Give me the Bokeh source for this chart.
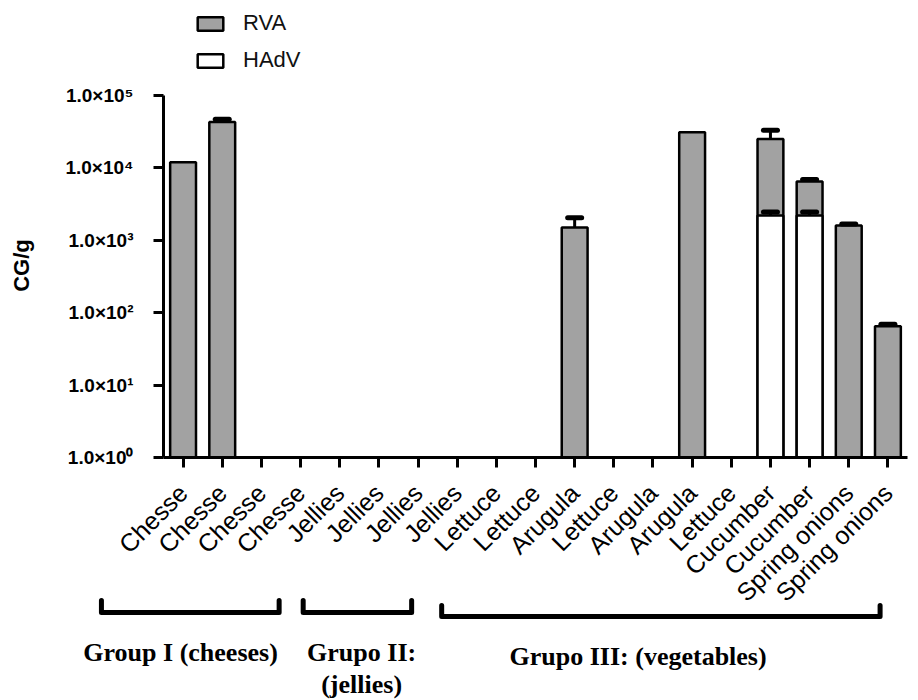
import math
import numpy as np
from bokeh.plotting import figure
from bokeh.layouts import column
from bokeh.models import (ColumnDataSource, FixedTicker, Range1d, LinearScale,
                          Legend, LegendItem, Whisker, TeeHead)
from bokeh.core.properties import value
from bokeh.embed import file_html
from bokeh.resources import INLINE

# ---------------- data ----------------
categories = ["Chesse", "Chesse", "Chesse", "Chesse",
              "Jellies", "Jellies", "Jellies", "Jellies",
              "Lettuce", "Lettuce", "Arugula", "Lettuce", "Arugula",
              "Arugula", "Lettuce", "Cucumber", "Cucumber",
              "Spring onions", "Spring onions"]
rva = [12000, 43000, None, None, None, None, None, None, None, None,
       1500, None, None, 31000, None, 25000, 6500, 1600, 65]
rva_upper = [None, 47000, None, None, None, None, None, None, None, None,
             2050, None, None, None, None, 33000, 6900, 1680, 69]
hadv = [None, None, None, None, None, None, None, None, None, None,
        None, None, None, None, None, 2200, 2200, None, None]
hadv_upper = [None, None, None, None, None, None, None, None, None, None,
              None, None, None, None, None, 2450, 2450, None, None]
series_names = ["RVA", "HAdV"]
y_ticks = [1, 10, 100, 1000, 10000, 100000]
y_tick_labels = ["1.0×10⁰", "1.0×10¹", "1.0×10²", "1.0×10³", "1.0×10⁴", "1.0×10⁵"]
y_title = "CG/g"
group_labels = ["Group I (cheeses)", "Grupo II:\n(jellies)", "Grupo III: (vegetables)"]

# ---------------- layout (decoration positions: page pixels / category units) ----
TOTAL_H, LEFT, FRAME_W, RIGHT = 700, 163, 744, 8
LEGEND_H = 73                      # height of the legend strip on top
AXIS_TOP_PX, AXIS_BOTTOM_PX = 95, 457
decade_px = (AXIS_BOTTOM_PX - AXIS_TOP_PX) / 5.0
y_end = 10 ** (5 + (AXIS_TOP_PX - LEGEND_H) / decade_px)
group_span = [(-2.085, 2.453), (3.067, 5.837), (6.604, 17.80)]
group_text_x = [-0.064, 4.56, 11.62]
bracket_top = [600, 600, 605]
bracket_line = [612, 612, 616]
group_text_y = [637, 637, 641]

GRAY = "#a2a2a2"
SANS = "Liberation Sans"
SERIF = "Liberation Serif"
BAR_STYLE = dict(line_color="black", line_width=2.5)


def nan(v):
    return np.nan if v is None else float(v)


x = list(range(len(categories)))
src = ColumnDataSource(dict(x=x, rva=[nan(v) for v in rva], hadv=[nan(v) for v in hadv]))

# ---------------- legend strip ----------------
pl = figure(frame_width=FRAME_W, frame_height=LEGEND_H,
            min_border_left=LEFT, min_border_right=RIGHT,
            min_border_top=0, min_border_bottom=0,
            x_range=Range1d(0, 1), y_range=Range1d(0, 1),
            x_axis_type=None, y_axis_type=None,
            output_backend="svg", toolbar_location=None)
pl.xgrid.visible = False
pl.ygrid.visible = False
pl.outline_line_color = None
# legend-only renderers (their single value is empty, so nothing is drawn in the strip)
key_src = ColumnDataSource(dict(x=[0.5], top=[np.nan]))
lr1 = pl.vbar(x="x", top="top", width=0.5, source=key_src, fill_color=GRAY, **BAR_STYLE)
lr2 = pl.vbar(x="x", top="top", width=0.5, source=key_src, fill_color="white", **BAR_STYLE)
legend = Legend(items=[LegendItem(label=series_names[0], renderers=[lr1]),
                       LegendItem(label=series_names[1], renderers=[lr2])],
                location=(31, 0), padding=0, margin=0, spacing=11,
                glyph_width=32, glyph_height=17, label_standoff=17,
                label_text_font=SANS, label_text_font_size="22px",
                label_text_color="#111111",
                border_line_color=None, background_fill_alpha=0)
pl.add_layout(legend)

# ---------------- main chart ----------------
p = figure(frame_width=FRAME_W, frame_height=AXIS_BOTTOM_PX - LEGEND_H,
           min_border_left=LEFT, min_border_right=RIGHT,
           min_border_top=0, min_border_bottom=TOTAL_H - AXIS_BOTTOM_PX,
           x_range=Range1d(-0.5, 18.5), y_range=Range1d(1, y_end),
           y_axis_type="log", output_backend="svg", toolbar_location=None)
p.xgrid.visible = False
p.ygrid.visible = False
p.outline_line_color = None

r1 = p.vbar(x="x", top="rva", bottom=1, width=0.66, source=src, fill_color=GRAY, **BAR_STYLE)
r2 = p.vbar(x="x", top="hadv", bottom=1, width=0.66, source=src, fill_color="white", **BAR_STYLE)


def add_err(vals, ups):
    idx = [i for i in x if ups[i] is not None and vals[i] is not None]
    es = ColumnDataSource(dict(x=idx, lo=[vals[i] for i in idx], hi=[ups[i] for i in idx]))
    w = Whisker(base="x", lower="lo", upper="hi", source=es, dimension="height",
                line_color="black", line_width=3,
                upper_head=TeeHead(size=14, line_width=5, line_color="black", line_cap="round"),
                lower_head=None, level="annotation")
    p.add_layout(w)


add_err(rva, rva_upper)
add_err(hadv, hadv_upper)

ya = p.yaxis[0]
ya.bounds = (y_ticks[0], y_ticks[-1])
ya.ticker = FixedTicker(ticks=y_ticks, minor_ticks=[])
ya.major_label_overrides = dict(zip(y_ticks, y_tick_labels))
ya.axis_line_width = 3
ya.major_tick_line_width = 3
ya.major_tick_out = 10
ya.major_tick_in = 0
ya.minor_tick_line_color = None
ya.major_label_standoff = 20
ya.major_label_text_font = SANS
ya.major_label_text_font_style = "bold"
ya.major_label_text_font_size = "19px"
ya.major_label_text_color = "black"
ya.axis_label = y_title
ya.axis_label_text_font = SANS
ya.axis_label_text_font_style = "bold"
ya.axis_label_text_font_size = "22px"
ya.axis_label_text_color = "black"
ya.axis_label_standoff = 28

xa = p.xaxis[0]
xa.ticker = FixedTicker(ticks=x, minor_ticks=[])
xa.major_label_overrides = {i: c for i, c in zip(x, categories)}
xa.major_label_orientation = math.pi / 4
xa.axis_line_width = 3
xa.major_tick_line_width = 3
xa.major_tick_out = 10
xa.major_tick_in = 0
xa.minor_tick_line_color = None
xa.major_label_standoff = 21
xa.major_label_text_font = SANS
xa.major_label_text_font_size = "25px"
xa.major_label_text_color = "black"

# group brackets and labels (layout range = page pixels)
p.extra_y_ranges = {"lay": Range1d(start=AXIS_BOTTOM_PX, end=LEGEND_H)}
p.extra_y_scales = {"lay": LinearScale()}
bx = [[a, a, b, b] for a, b in group_span]
by = [[t, l, l, t] for t, l in zip(bracket_top, bracket_line)]
p.multi_line(xs=bx, ys=by, y_range_name="lay", line_color="black", line_width=5,
             line_join="round", line_cap="round", level="overlay")
p.text(x=group_text_x, y=group_text_y, text=group_labels, y_range_name="lay",
       text_align="center", text_baseline="top", text_font=value(SERIF),
       text_font_style="bold", text_font_size="26px", text_line_height=1.12,
       text_color="black", level="overlay")

layout = column(pl, p, spacing=0)
open("out.html", "w").write(file_html(layout, INLINE))
